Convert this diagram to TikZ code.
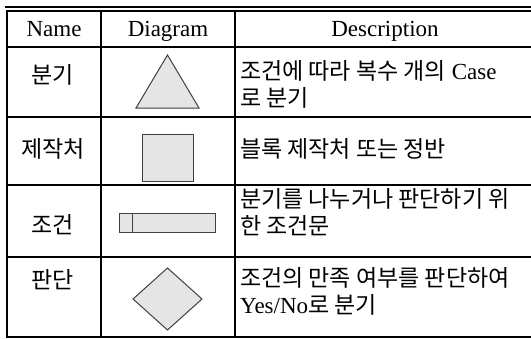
\documentclass[tikz,border=0pt]{standalone}
\usepackage{fontspec}
\setmainfont{Liberation Serif}
\newfontfamily\kr{Noto Sans CJK KR}
\tikzset{
  rule/.style={line width=2pt},
  head/.style={anchor=base, inner sep=0pt},
  namecell/.style={anchor=base, inner sep=0pt},
  desccell/.style={anchor=west, inner sep=0pt, align=left},
  symbol/.style={draw=black!75, fill=gray!20, line width=1pt}
}
\begin{document}
\begin{tikzpicture}[x=1pt,y=-1pt,font=\fontsize{23}{27}\selectfont]
\useasboundingbox (0,0) rectangle (531,338);
% table rules
\draw[rule] (5,7) -- (531,7);
\draw[rule] (7,11) -- (531,11);
\foreach \r in {47,117,185,257}
  \draw[rule] (7,\r) -- (531,\r);
\draw[rule] (7,336.5) -- (531,336.5);
\draw[rule] (7,10) -- (7,337.5);
\draw[rule] (101,11) -- (101,337.5);
\draw[rule] (235,11) -- (235,337.5);
% header
\node[head] (hname) at (54,36) {Name};
\node[head] (hdiag) at (168,36) {Diagram};
\node[head] (hdesc) at (385,36) {Description};
% col 1: names
\node[namecell] (nbranch) at (53,83) {\kr 분기};
\node[namecell] (nmaker) at (53,157) {\kr 제작처};
\node[namecell] (ncond) at (53,233) {\kr 조건};
\node[namecell] (njudge) at (53,288) {\kr 판단};
% col 2: symbols
\draw[symbol] (136,108) -- (167.5,55) -- (199,108) -- cycle;
\draw[symbol] (142,134) rectangle (193,181);
\draw[symbol] (119,213) rectangle (215,232);
\draw[symbol] (132,213) -- (132,232);
\draw[symbol] (133,299) -- (167.5,268) -- (202,299) -- (167.5,330) -- cycle;
% col 3: descriptions
\node[desccell] (dbranch) at (240,84) {{\kr 조건에 따라 복수 개의} Case\\{\kr 로 분기}};
\node[desccell, anchor=base west] (dmaker) at (240,157) {\kr 블록 제작처 또는 정반};
\node[desccell] (dcond) at (240,212.5) {{\kr 분기를 나누거나 판단하기 위}\\{\kr 한 조건문}};
\node[desccell] (djudge) at (240,291) {{\kr 조건의 만족 여부를 판단하여}\\Yes/No{\kr 로 분기}};
\end{tikzpicture}
\end{document}
